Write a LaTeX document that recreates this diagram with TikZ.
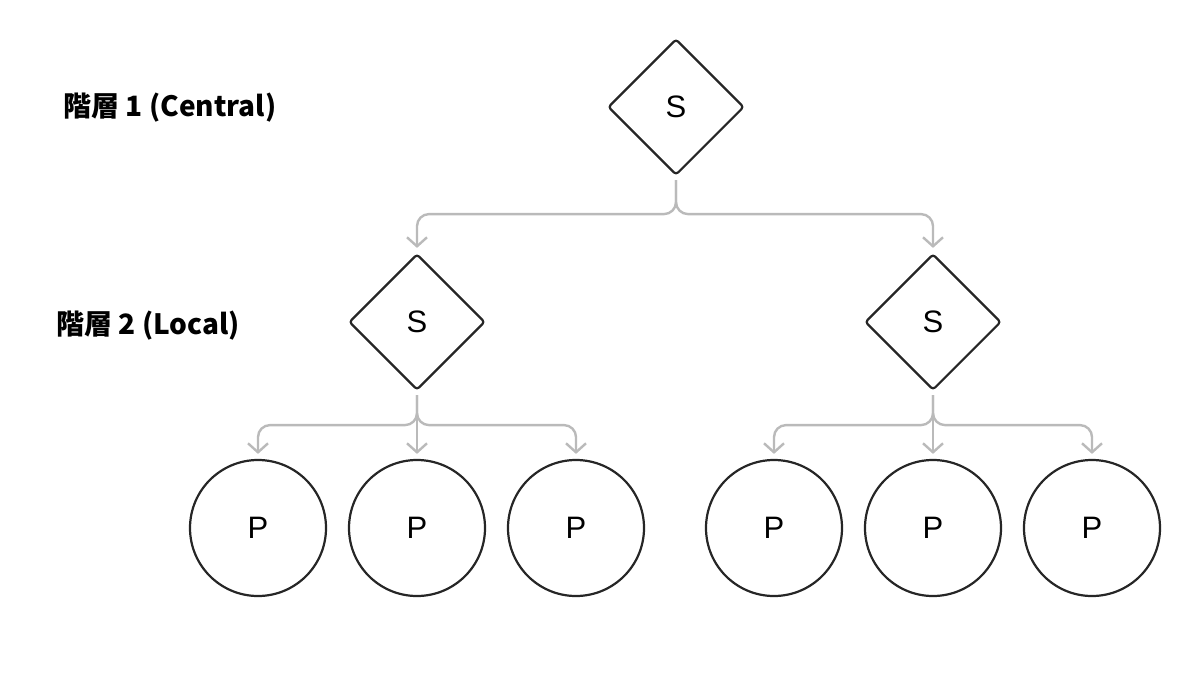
\documentclass[tikz,border=0pt]{standalone}
\usepackage{fontspec}
\setmainfont{Liberation Sans}
\newfontfamily\cjk{Noto Sans CJK JP}
\usetikzlibrary{shapes.geometric,arrows.meta}
\begin{document}
\begin{tikzpicture}[x=1pt,y=-1pt,
  dia/.style={diamond,draw=black!85,line width=2.2pt,minimum size=136pt,aspect=1,rounded corners=3pt,inner sep=0pt,font=\fontsize{31}{34}\selectfont},
  proc/.style={circle,draw=black!85,line width=2.2pt,minimum size=136pt,inner sep=0pt,font=\fontsize{31}{34}\selectfont},
  conn/.style={draw=black!27,line width=2.4pt,rounded corners=12pt,-{Straight Barb[length=9pt,width=20pt,line width=2.4pt]}},
  lab/.style={anchor=west,font=\cjk\bfseries\fontsize{28}{32}\selectfont}]
\useasboundingbox (0,0) rectangle (1200,678);
\node[dia] (t) at (676,107) {S};
\node[dia] (l) at (417,322) {S};
\node[dia] (r) at (933,322) {S};
\foreach \n/\x in {p1/258,p2/417,p3/576,p4/774,p5/933,p6/1092}
  \node[proc] (\n) at (\x,528) {P};
\node[lab] (h1) at (60,108) {階層 1 (Central)};
\node[lab] (h2) at (53,326) {階層 2 (Local)};
\draw[conn] ([yshift=-4pt]t.south) -- ++(0,34) -| ([yshift=5pt]l.north);
\draw[conn] ([yshift=-4pt]t.south) -- ++(0,34) -| ([yshift=5pt]r.north);
\foreach \s/\a/\b/\c in {l/p1/p2/p3,r/p4/p5/p6}{
  \draw[conn] ([yshift=-4pt]\s.south) -- ++(0,30) -| ([yshift=5pt]\a.north);
  \draw[conn] ([yshift=-4pt]\s.south) -- ([yshift=5pt]\b.north);
  \draw[conn] ([yshift=-4pt]\s.south) -- ++(0,30) -| ([yshift=5pt]\c.north);
}
\end{tikzpicture}
\end{document}
